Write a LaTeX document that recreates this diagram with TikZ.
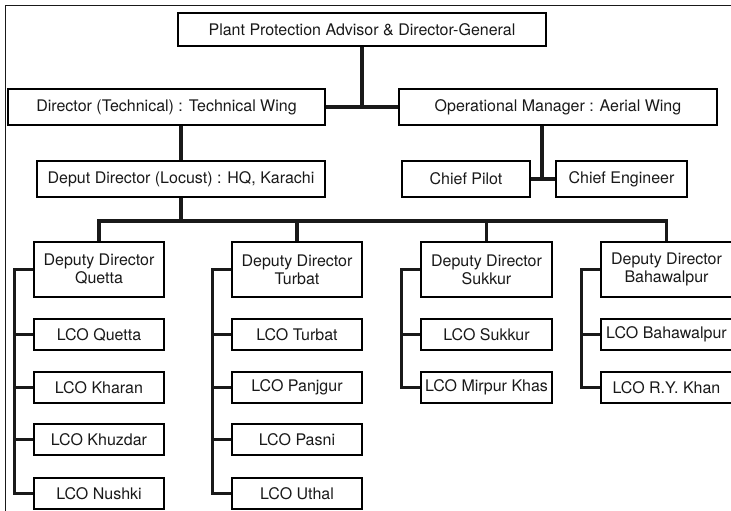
\documentclass[tikz,border=0pt]{standalone}
\usepackage{fontspec}
\setmainfont{TeX Gyre Heros}
\begin{document}
\begin{tikzpicture}[x=1pt,y=-1pt,
  box/.style={draw, line width=1.1pt, inner sep=0pt, align=center,
    font=\fontsize{16}{18}\selectfont, text=black!90},
  link/.style={line width=3.3pt, black!90},
  frame/.style={line width=1.3pt, black!90}]
\clip (0,0) rectangle (731,511);

% outer frame (open on the right and at the bottom)
\draw[frame] (5.5,520) -- (5.5,5.5) -- (740,5.5);

% head office
\node[box, minimum width=368pt, minimum height=33pt] (top) at (362,29.5)
  {Plant Protection Advisor \& Director-General};
\node[box, minimum width=317pt, minimum height=36pt] (tech) at (166.5,107)
  {Director (Technical) : Technical Wing};
\node[box, minimum width=318pt, minimum height=36pt] (aerial) at (558,107)
  {Operational Manager : Aerial Wing};
\node[box, minimum width=288pt, minimum height=36pt] (locust) at (181,179)
  {Deput Director (Locust) : HQ, Karachi};
\node[box, minimum width=128pt, minimum height=36pt] (pilot) at (466,179)
  {Chief Pilot};
\node[box, minimum width=131pt, minimum height=36pt] (engineer) at (621.5,179)
  {Chief Engineer};

% deputy directors
\node[box, minimum width=130pt, minimum height=55pt] (dq) at (99,269.5)
  {Deputy Director\\Quetta};
\node[box, minimum width=130pt, minimum height=55pt] (dt) at (297,269.5)
  {Deputy Director\\Turbat};
\node[box, minimum width=131pt, minimum height=55pt] (ds) at (486.5,269.5)
  {Deputy Director\\Sukkur};
\node[box, minimum width=131pt, minimum height=55pt] (db) at (666.5,269.5)
  {Deputy Director\\Bahawalpur};

% locust control offices
\foreach \n/\x/\w/\t [count=\i] in {
    q1/99/130/LCO Quetta, q2/99/130/LCO Kharan, q3/99/130/LCO Khuzdar, q4/99/130/LCO Nushki}
  {\pgfmathsetmacro\yy{{334.5,387.5,439.5,493.5}[\i-1]}
   \node[box, minimum width=\w pt, minimum height=31pt] (\n) at (\x,\yy) {\t};}
\foreach \n/\x/\w/\t [count=\i] in {
    t1/297/130/LCO Turbat, t2/297/130/LCO Panjgur, t3/297/130/LCO Pasni, t4/297/130/LCO Uthal}
  {\pgfmathsetmacro\yy{{334.5,387.5,439.5,493.5}[\i-1]}
   \node[box, minimum width=\w pt, minimum height=31pt] (\n) at (\x,\yy) {\t};}
\node[box, minimum width=131pt, minimum height=31pt] (s1) at (486.5,334.5) {LCO Sukkur};
\node[box, minimum width=131pt, minimum height=31pt] (s2) at (486.5,387.5) {LCO Mirpur Khas};
\node[box, minimum width=131pt, minimum height=31pt] (b1) at (666.5,334.5) {LCO Bahawalpur};
\node[box, minimum width=131pt, minimum height=31pt] (b2) at (666.5,387.5) {LCO R.Y. Khan};

% upper links
\draw[link] (top.south) -- (top.south |- tech.east);
\draw[link] (tech.east) -- (aerial.west);
\draw[link] (locust.north) -- (locust.north |- tech.south);
\coordinate (aj) at (542,179);
\draw[link] (aerial.south -| aj) -- (aj);
\draw[link] (pilot.east) -- (engineer.west);

% bus to the deputy directors
\coordinate (bus) at (181,221);
\draw[link] (locust.south) -- (locust.south |- bus);
\draw[link] (dq.north) -- (dq.north |- bus) -- (db.north |- bus) -- (db.north);
\draw[link] (dt.north) -- (dt.north |- bus);
\draw[link] (ds.north) -- (ds.north |- bus);

% spines to the offices
\draw[link] (dq.west) -- ++(-19,0) coordinate (sq) |- (q4.west);
\foreach \n in {q1,q2,q3} \draw[link] (\n.west) -- (\n.west -| sq);
\draw[link] (dt.west) -- ++(-19,0) coordinate (st) |- (t4.west);
\foreach \n in {t1,t2,t3} \draw[link] (\n.west) -- (\n.west -| st);
\draw[link] (ds.west) -- ++(-19,0) coordinate (ss) |- (s2.west);
\draw[link] (s1.west) -- (s1.west -| ss);
\draw[link] (db.west) -- ++(-19,0) coordinate (sb) |- (b2.west);
\draw[link] (b1.west) -- (b1.west -| sb);
\end{tikzpicture}
\end{document}
